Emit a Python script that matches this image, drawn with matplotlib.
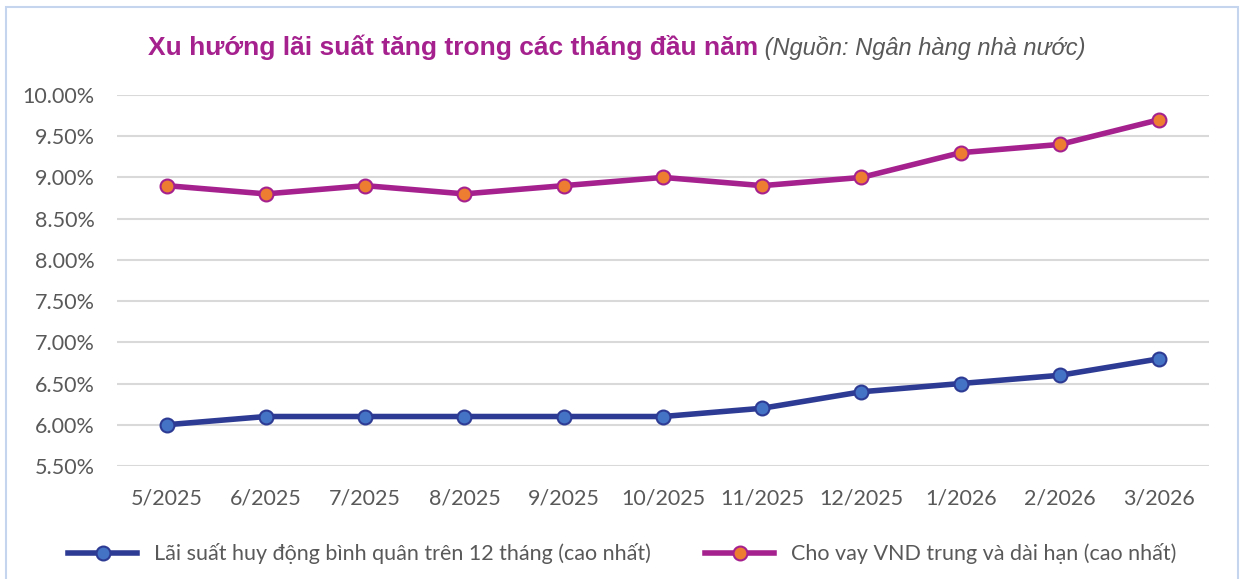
import matplotlib
matplotlib.use("Agg")
import matplotlib.pyplot as plt
from matplotlib.patches import Rectangle

months = ["5/2025", "6/2025", "7/2025", "8/2025", "9/2025", "10/2025",
          "11/2025", "12/2025", "1/2026", "2/2026", "3/2026"]
huy_dong = [6.0, 6.1, 6.1, 6.1, 6.1, 6.1, 6.2, 6.4, 6.5, 6.6, 6.8]
cho_vay = [8.9, 8.8, 8.9, 8.8, 8.9, 9.0, 8.9, 9.0, 9.3, 9.4, 9.7]
yticks = [5.5, 6.0, 6.5, 7.0, 7.5, 8.0, 8.5, 9.0, 9.5, 10.0]

label_font = "Lato"
grey = "#595959"

fig = plt.figure(figsize=(12.45, 5.79), dpi=100)
ax = fig.add_axes([0.094, 0.1952, 0.877, 0.6408])

x = range(len(months))
ax.plot(x, huy_dong, color="#2E3B94", lw=4, marker="o", ms=10,
        mfc="#4472C4", mec="#2E3B94", mew=1.5, zorder=3,
        label="Lãi suất huy động bình quân trên 12 tháng (cao nhất)")
ax.plot(x, cho_vay, color="#A5218E", lw=4, marker="o", ms=10,
        mfc="#ED7D31", mec="#A5218E", mew=1.5, zorder=3,
        label="Cho vay VND trung và dài hạn (cao nhất)")

ax.set_xlim(-0.5, len(months) - 0.5)
ax.set_ylim(5.5, 10.0)
ax.set_yticks(yticks)
ax.set_yticklabels([f"{v:.2f}%" for v in yticks])
ax.set_xticks(list(x))
ax.set_xticklabels(months)
ax.grid(axis="y", color="#D9D9D9", lw=1.5)
ax.set_axisbelow(True)
for s in ax.spines.values():
    s.set_visible(False)
ax.tick_params(length=0, labelsize=15.5, colors=grey)
ax.tick_params(axis="y", pad=16)
ax.tick_params(axis="x", pad=16)
for lab in ax.get_xticklabels() + ax.get_yticklabels():
    lab.set_fontfamily(label_font)

leg = fig.legend(loc="lower center", bbox_to_anchor=(0.5, -0.008), ncol=2,
                 frameon=False, handlelength=3.2, columnspacing=2.5,
                 prop={"family": label_font, "size": 15.5}, labelcolor=grey)

# title in two styles
t1 = fig.text(0.119, 0.905, "Xu hướng lãi suất tăng trong các tháng đầu năm",
              color="#A5218E", fontsize=19, fontweight="bold",
              family="Liberation Sans", va="baseline")
ax.annotate(" (Nguồn: Ngân hàng nhà nước)", xy=(1, 0), xycoords=t1,
            va="bottom", ha="left", color=grey, fontsize=17, style="italic",
            family="Liberation Sans", annotation_clip=False)

# light blue border round the chart
fig.patches.append(Rectangle((6 / 1245, -0.05), 1232 / 1245, 1 - 7 / 579 + 0.05,
                             transform=fig.transFigure, fill=False,
                             ec="#C5D5EE", lw=1.5))

fig.savefig("out.png", dpi=100)
